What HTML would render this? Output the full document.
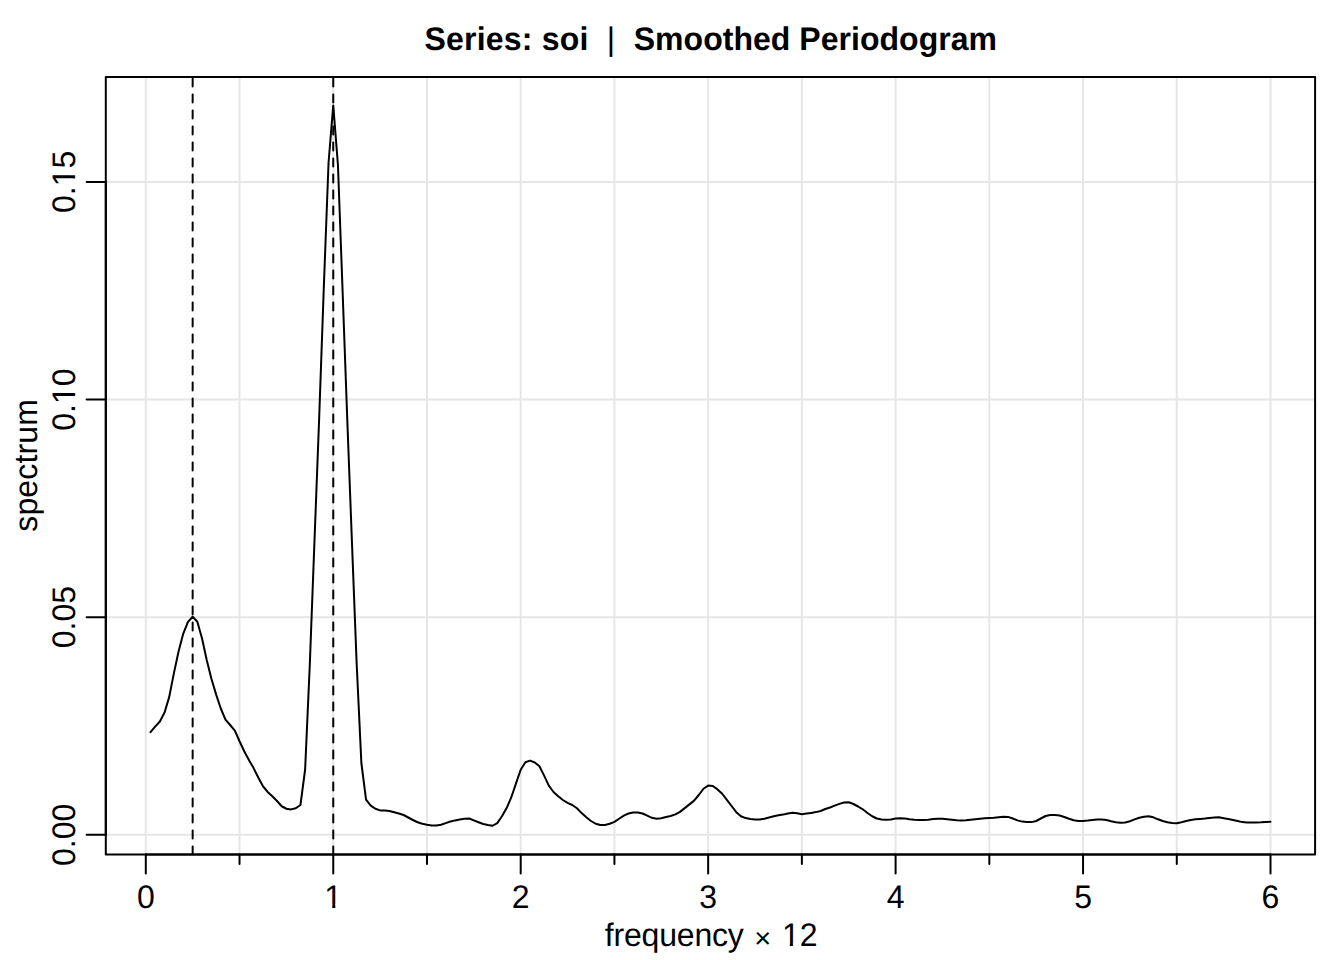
<!DOCTYPE html>
<html><head><meta charset="utf-8"><title>Series: soi | Smoothed Periodogram</title>
<style>html,body{margin:0;padding:0;background:#fff;width:1344px;height:960px;overflow:hidden}svg{display:block}</style>
</head><body>
<svg width="1344" height="960" viewBox="0 0 1344 960">
<defs><clipPath id="f0" clipPathUnits="userSpaceOnUse"><path clip-rule="evenodd" d="M-2000 -2000H2000V2000H-2000ZM-7.20 -3.3H-0.98V1.5H-7.20ZM2.11 -3.3H8.10V1.5H2.11Z"/></clipPath><clipPath id="f1" clipPathUnits="userSpaceOnUse"><path clip-rule="evenodd" d="M-2000 -2000H2000V2000H-2000ZM-2.76 -3.3H3.46V1.5H-2.76ZM6.55 -3.3H12.54V1.5H6.55Z"/></clipPath><clipPath id="f2" clipPathUnits="userSpaceOnUse"><path clip-rule="evenodd" d="M-2000 -2000H2000V2000H-2000ZM-2.76 -3.3H3.46V1.5H-2.76ZM6.55 -3.3H12.54V1.5H6.55Z"/></clipPath><clipPath id="f3" clipPathUnits="userSpaceOnUse"><path clip-rule="evenodd" d="M-2000 -2000H2000V2000H-2000ZM1.70 -3.3H7.92V1.5H1.70ZM11.01 -3.3H17.00V1.5H11.01Z"/></clipPath><clipPath id="c"><rect x="105.80" y="76.90" width="1209.30" height="777.50"/></clipPath></defs>
<rect width="1344" height="960" fill="#fff"/>
<g stroke="#e6e6e6" stroke-width="2" clip-path="url(#c)"><line x1="145.80" y1="76.90" x2="145.80" y2="854.40"/><line x1="239.53" y1="76.90" x2="239.53" y2="854.40"/><line x1="333.25" y1="76.90" x2="333.25" y2="854.40"/><line x1="426.97" y1="76.90" x2="426.97" y2="854.40"/><line x1="520.70" y1="76.90" x2="520.70" y2="854.40"/><line x1="614.42" y1="76.90" x2="614.42" y2="854.40"/><line x1="708.15" y1="76.90" x2="708.15" y2="854.40"/><line x1="801.88" y1="76.90" x2="801.88" y2="854.40"/><line x1="895.60" y1="76.90" x2="895.60" y2="854.40"/><line x1="989.33" y1="76.90" x2="989.33" y2="854.40"/><line x1="1083.05" y1="76.90" x2="1083.05" y2="854.40"/><line x1="1176.77" y1="76.90" x2="1176.77" y2="854.40"/><line x1="1270.50" y1="76.90" x2="1270.50" y2="854.40"/><line x1="105.80" y1="834.80" x2="1315.10" y2="834.80"/><line x1="105.80" y1="617.17" x2="1315.10" y2="617.17"/><line x1="105.80" y1="399.54" x2="1315.10" y2="399.54"/><line x1="105.80" y1="181.91" x2="1315.10" y2="181.91"/></g>
<g stroke="#000" stroke-width="2" stroke-dasharray="8 8" stroke-linecap="round" clip-path="url(#c)"><line x1="192.66" y1="854.40" x2="192.66" y2="76.90"/><line x1="333.25" y1="854.40" x2="333.25" y2="76.90"/></g>
<polyline fill="none" stroke="#000" stroke-width="2" stroke-linejoin="round" stroke-linecap="round" clip-path="url(#c)" points="150.49,732.20 155.17,726.60 159.86,721.50 164.55,712.50 169.23,696.90 173.92,673.10 178.60,651.25 183.29,633.60 187.98,621.90 192.66,616.80 197.35,621.80 202.04,638.50 206.72,660.00 211.41,678.75 216.09,694.40 220.78,708.50 225.47,719.70 230.15,725.00 234.84,730.60 239.53,741.25 244.21,751.25 248.90,760.00 253.58,768.10 258.27,777.50 262.96,786.25 267.64,791.90 272.33,796.25 277.01,801.00 281.70,806.25 286.39,808.75 291.07,809.40 295.76,808.30 300.45,805.00 305.13,769.50 309.82,664.00 314.50,540.40 319.19,417.50 323.88,285.50 328.56,162.50 333.25,105.40 337.94,165.00 342.62,291.80 347.31,420.50 352.00,543.60 356.68,664.00 361.37,763.00 366.05,799.60 370.74,805.60 375.43,808.75 380.11,810.40 384.80,810.40 389.49,811.00 394.17,812.25 398.86,813.50 403.54,815.00 408.23,817.50 412.92,820.00 417.60,822.25 422.29,823.75 426.98,824.75 431.66,825.40 436.35,825.50 441.03,824.75 445.72,823.10 450.41,821.50 455.09,820.40 459.78,819.60 464.47,818.75 469.15,818.50 473.84,820.40 478.52,822.25 483.21,824.00 487.90,825.00 492.58,825.75 497.27,823.10 501.96,816.25 506.64,808.10 511.33,797.20 516.01,783.40 520.70,769.70 525.39,762.25 530.07,760.60 534.76,762.50 539.45,766.25 544.13,775.60 548.82,785.60 553.50,792.00 558.19,796.20 562.88,800.00 567.56,802.80 572.25,805.00 576.94,808.30 581.62,813.10 586.31,817.25 590.99,821.00 595.68,823.75 600.37,825.00 605.05,825.00 609.74,823.75 614.42,821.90 619.11,818.75 623.80,815.60 628.48,813.50 633.17,812.50 637.86,812.50 642.54,813.50 647.23,815.60 651.91,817.80 656.60,818.75 661.29,818.30 665.97,817.00 670.66,816.00 675.35,814.40 680.03,811.90 684.72,808.10 689.40,804.40 694.09,800.60 698.78,795.00 703.46,788.75 708.15,785.60 712.84,786.00 717.52,789.40 722.21,793.75 726.89,799.80 731.58,806.00 736.27,812.20 740.95,816.25 745.64,818.10 750.33,819.10 755.01,819.60 759.70,819.60 764.38,818.75 769.07,817.50 773.76,816.25 778.44,815.25 783.13,814.60 787.82,813.50 792.50,812.80 797.19,813.20 801.88,814.20 806.56,813.60 811.25,812.90 815.93,812.10 820.62,811.00 825.31,809.00 829.99,807.50 834.68,805.60 839.37,803.90 844.05,802.50 848.74,802.20 853.42,804.00 858.11,806.50 862.80,809.30 867.48,813.00 872.17,816.25 876.86,818.50 881.54,819.50 886.23,819.75 890.91,819.40 895.60,818.60 900.29,818.30 904.97,818.50 909.66,819.20 914.35,819.70 919.03,819.90 923.72,820.00 928.40,819.70 933.09,819.10 937.78,818.75 942.46,818.80 947.15,819.30 951.84,819.80 956.52,820.20 961.21,820.40 965.89,820.30 970.58,819.80 975.27,819.25 979.95,818.70 984.64,818.30 989.33,818.00 994.01,817.70 998.70,817.20 1003.38,816.80 1008.07,816.90 1012.76,818.50 1017.44,820.40 1022.13,821.60 1026.82,822.10 1031.50,822.10 1036.19,821.00 1040.87,818.50 1045.56,816.00 1050.25,815.00 1054.93,815.00 1059.62,815.50 1064.31,817.00 1068.99,818.80 1073.68,820.30 1078.36,821.00 1083.05,821.00 1087.74,820.60 1092.42,820.00 1097.11,819.50 1101.80,819.40 1106.48,820.00 1111.17,821.25 1115.85,822.25 1120.54,822.75 1125.23,822.50 1129.91,821.25 1134.60,819.40 1139.29,817.75 1143.97,816.80 1148.66,816.30 1153.34,817.30 1158.03,819.30 1162.72,821.00 1167.40,822.30 1172.09,823.00 1176.78,823.20 1181.46,822.30 1186.15,821.00 1190.83,820.00 1195.52,819.30 1200.21,819.00 1204.89,818.60 1209.58,817.90 1214.27,817.60 1218.95,817.30 1223.64,818.20 1228.32,819.10 1233.01,820.00 1237.70,821.00 1242.38,822.10 1247.07,822.60 1251.76,822.60 1256.44,822.40 1261.13,822.30 1265.81,822.00 1270.50,821.70"/>
<rect x="105.80" y="76.90" width="1209.30" height="777.50" fill="none" stroke="#000" stroke-width="2" stroke-linejoin="round"/>
<line x1="145.80" y1="854.40" x2="1270.50" y2="854.40" stroke="#000" stroke-width="2" stroke-linecap="round"/>
<line x1="105.80" y1="834.80" x2="105.80" y2="181.91" stroke="#000" stroke-width="2" stroke-linecap="round"/>
<g stroke="#000" stroke-width="2" stroke-linecap="round"><line x1="145.80" y1="854.40" x2="145.80" y2="873.60"/><line x1="333.25" y1="854.40" x2="333.25" y2="873.60"/><line x1="520.70" y1="854.40" x2="520.70" y2="873.60"/><line x1="708.15" y1="854.40" x2="708.15" y2="873.60"/><line x1="895.60" y1="854.40" x2="895.60" y2="873.60"/><line x1="1083.05" y1="854.40" x2="1083.05" y2="873.60"/><line x1="1270.50" y1="854.40" x2="1270.50" y2="873.60"/><line x1="239.53" y1="854.40" x2="239.53" y2="864.00"/><line x1="426.97" y1="854.40" x2="426.97" y2="864.00"/><line x1="614.42" y1="854.40" x2="614.42" y2="864.00"/><line x1="801.88" y1="854.40" x2="801.88" y2="864.00"/><line x1="989.33" y1="854.40" x2="989.33" y2="864.00"/><line x1="1176.77" y1="854.40" x2="1176.77" y2="864.00"/><line x1="105.80" y1="834.80" x2="86.60" y2="834.80"/><line x1="105.80" y1="617.17" x2="86.60" y2="617.17"/><line x1="105.80" y1="399.54" x2="86.60" y2="399.54"/><line x1="105.80" y1="181.91" x2="86.60" y2="181.91"/></g>
<g font-family="Liberation Sans, Arial, Helvetica, sans-serif" font-size="32" fill="#000" text-rendering="geometricPrecision"><text transform="translate(145.80 907.70) scale(1 1.02)" text-anchor="middle">0</text><text transform="translate(333.25 907.70) scale(1 1.02)" text-anchor="middle" clip-path="url(#f0)">1</text><text transform="translate(520.70 907.70) scale(1 1.02)" text-anchor="middle">2</text><text transform="translate(708.15 907.70) scale(1 1.02)" text-anchor="middle">3</text><text transform="translate(895.60 907.70) scale(1 1.02)" text-anchor="middle">4</text><text transform="translate(1083.05 907.70) scale(1 1.02)" text-anchor="middle">5</text><text transform="translate(1270.50 907.70) scale(1 1.02)" text-anchor="middle">6</text><text transform="translate(74.85 834.80) rotate(-90) scale(1 1.02)" text-anchor="middle">0.00</text><text transform="translate(74.85 617.17) rotate(-90) scale(1 1.02)" text-anchor="middle">0.05</text><text transform="translate(74.85 399.54) rotate(-90) scale(1 1.02)" text-anchor="middle" clip-path="url(#f1)">0.10</text><text transform="translate(74.85 181.91) rotate(-90) scale(1 1.02)" text-anchor="middle" clip-path="url(#f2)">0.15</text><text transform="translate(604.75 946.40) scale(1 1.02)" textLength="139.06" lengthAdjust="spacing">frequency</text><text transform="translate(754.20 948.20)" font-size="29">×</text><text transform="translate(781.90 946.40) scale(1 1.02)"  clip-path="url(#f3)">12</text><text transform="translate(36.60 531.70) rotate(-90) scale(1 1.02)" textLength="132.55" lengthAdjust="spacing">spectrum</text><text transform="translate(424.50 49.70) scale(1 1.02)" font-weight="bold" textLength="163.90" lengthAdjust="spacing">Series: soi</text><text transform="translate(606.75 49.70) scale(1 1.02)" >|</text><text transform="translate(633.70 49.70) scale(1 1.02)" font-weight="bold" textLength="363.30" lengthAdjust="spacing">Smoothed Periodogram</text></g>
</svg>
</body></html>
